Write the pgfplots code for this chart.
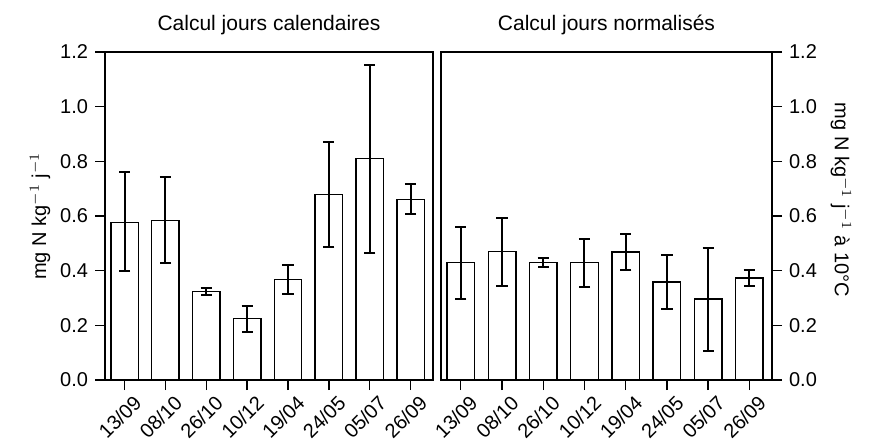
\documentclass[border=0pt]{standalone}
\usepackage{fontspec}
\setmainfont{Liberation Sans}
\usepackage{pgfplots}
\usepackage{pgfplotstable}
\pgfplotsset{compat=1.18}
\pgfplotstableread{
x y ep em
0 0.577 0.184 0.178
1 0.583 0.160 0.154
2 0.324 0.013 0.013
3 0.224 0.046 0.048
4 0.367 0.053 0.052
5 0.678 0.194 0.190
6 0.810 0.341 0.345
7 0.660 0.056 0.051
}\lefttab
\pgfplotstableread{
x y ep em
0 0.429 0.132 0.134
1 0.471 0.123 0.127
2 0.429 0.016 0.016
3 0.429 0.088 0.089
4 0.468 0.066 0.066
5 0.359 0.100 0.100
6 0.296 0.187 0.189
7 0.373 0.031 0.029
}\righttab
\pgfplotsset{
  panel/.style={
    scale only axis, height=164pt,
    ymin=0, ymax=1.2, ytick={0,0.2,...,1.2},
    xmin=-0.48, xmax=7.55,
    xtick={0,...,7},
    xticklabels={13/09,08/10,26/10,10/12,19/04,24/05,05/07,26/09},
    xticklabel style={rotate=45, anchor=north east, inner sep=0pt, yshift=-4pt, xshift=1.5pt, font=\fontsize{10}{11}\selectfont},
    yticklabel style={/pgf/number format/.cd, fixed, fixed zerofill, precision=1, /tikz/.cd, font=\fontsize{10}{11}\selectfont},
    /pgf/number format/assume math mode=true,
    tick align=outside, xtick pos=bottom,
    major tick length=5pt,
    axis line style={line width=0.8pt},
    tick style={line width=0.7pt, black},
    title style={font=\fontsize{10.5}{12}\selectfont, yshift=-1pt},
    label style={font=\fontsize{10}{11}\selectfont},
    ybar, bar width=0.67,
  },
  barsty/.style={fill=white, draw=black, line width=0.7pt,
    error bars/.cd, y dir=both, y explicit,
    error bar style={line width=1pt, black},
    error mark options={rotate=90, mark size=2.8pt, line width=1pt, black}},
}
\begin{document}
\begin{tikzpicture}
\path[use as bounding box] (-52.5pt,-32.5pt) rectangle (382.5pt,190pt);
\begin{axis}[panel, at={(0pt,0pt)}, anchor=south west, width=164pt,
  ytick pos=left, title={Calcul jours calendaires},
  ylabel={mg N kg$^{-1}$ j$^{-1}$}, ylabel style={yshift=-2pt}]
\addplot[barsty] table[x=x, y=y, y error plus=ep, y error minus=em] {\lefttab};
\end{axis}
\begin{axis}[panel, at={(168pt,0pt)}, anchor=south west, width=165.5pt,
  ytick pos=right, yticklabel pos=right, title={Calcul jours normalisés},
  ylabel={mg N kg$^{-1}$ j$^{-1}$ à 10°C}, ylabel style={rotate=180, xshift=-8pt}]
\addplot[barsty] table[x=x, y=y, y error plus=ep, y error minus=em] {\righttab};
\end{axis}
\end{tikzpicture}
\end{document}
